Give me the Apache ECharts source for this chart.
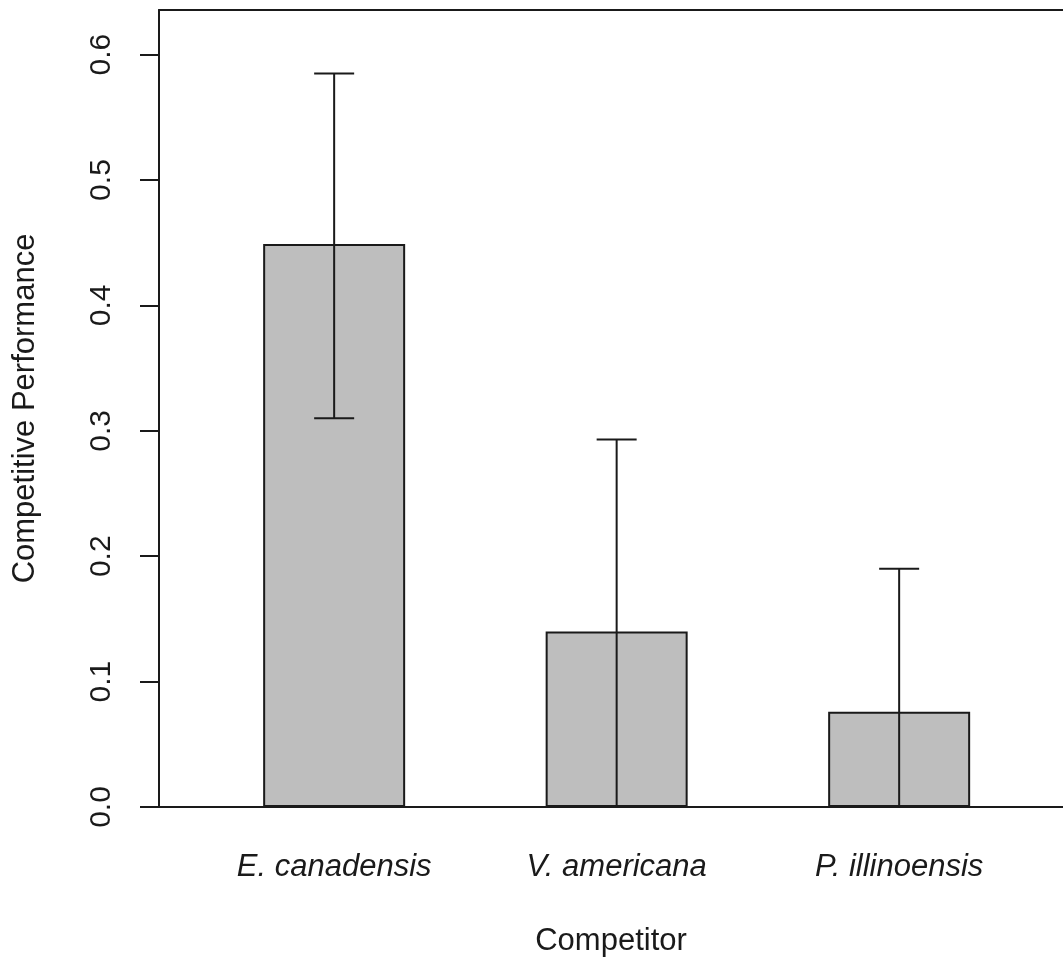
<!DOCTYPE html>
<html>
<head>
<meta charset="utf-8">
<script src="https://cdn.jsdelivr.net/npm/echarts@6/dist/echarts.min.js"></script>
<style>
  html, body { margin: 0; padding: 0; background: #ffffff; }
  #chart { width: 1063px; height: 964px; }
</style>
</head>
<body>
<div id="chart"></div>
<script>
// Competitive performance by competitor species (mean with error bars)
const categories = ['E. canadensis', 'V. americana', 'P. illinoensis'];
const means = [0.449, 0.140, 0.076];
const lowerLimits = [0.310, -0.013, -0.040];
const upperLimits = [0.585, 0.293, 0.190];
const yTicks = [0.0, 0.1, 0.2, 0.3, 0.4, 0.5, 0.6];

// bar positions along the x scale: 1, 2, 3
const positions = categories.map((_, i) => i + 1);

const FONT = "'Liberation Sans', Arial, sans-serif";
const INK = '#1a1a1a';
const X_MIN = 0.38, X_MAX = 3.58;
const Y_MAX = 0.6356;

const chart = echarts.init(document.getElementById('chart'), null, { renderer: 'canvas' });

chart.setOption({
  animation: false,
  backgroundColor: '#ffffff',
  grid: { left: 159, right: 0, top: 10, bottom: 157, containLabel: false },
  xAxis: [
    {
      type: 'value',
      position: 'bottom',
      min: X_MIN,
      max: X_MAX,
      name: 'Competitor',
      nameLocation: 'middle',
      nameGap: 119,
      nameTextStyle: { fontFamily: FONT, fontSize: 31, color: INK },
      axisLine: { show: true, onZero: false, lineStyle: { color: INK, width: 2 } },
      axisTick: { show: false },
      splitLine: { show: false },
      axisLabel: {
        customValues: positions,
        formatter: v => categories[Math.round(v) - 1] || '',
        fontFamily: FONT,
        fontSize: 31,
        fontStyle: 'italic',
        color: INK,
        margin: 45
      }
    },
    {
      type: 'value',
      position: 'top',
      min: X_MIN,
      max: X_MAX,
      axisLine: { show: true, onZero: false, lineStyle: { color: INK, width: 2 } },
      axisTick: { show: false },
      axisLabel: { show: false },
      splitLine: { show: false }
    }
  ],
  yAxis: {
    type: 'value',
    min: 0,
    max: Y_MAX,
    interval: 0.1,
    name: 'Competitive Performance',
    nameLocation: 'middle',
    nameGap: 118,
    nameTextStyle: { fontFamily: FONT, fontSize: 31, color: INK },
    axisLine: { show: true, onZero: false, lineStyle: { color: INK, width: 2 } },
    axisTick: {
      show: true,
      inside: false,
      length: 19,
      customValues: yTicks,
      lineStyle: { color: INK, width: 2 }
    },
    splitLine: { show: false },
    axisLabel: {
      customValues: yTicks,
      rotate: 90,
      formatter: v => v.toFixed(1),
      fontFamily: FONT,
      fontSize: 30,
      color: INK,
      margin: 42
    }
  },
  series: [
    {
      type: 'bar',
      xAxisIndex: 0,
      barWidth: 142,
      data: positions.map((p, i) => [p, means[i]]),
      itemStyle: { color: '#bebebe', borderColor: INK, borderWidth: 2 },
      z: 2
    },
    {
      type: 'custom',
      xAxisIndex: 0,
      clip: true,
      z: 3,
      data: positions.map((p, i) => [p, lowerLimits[i], upperLimits[i]]),
      encode: { x: 0, y: [1, 2] },
      renderItem: function (params, api) {
        const x = api.value(0);
        const lo = api.coord([x, api.value(1)]);
        const hi = api.coord([x, api.value(2)]);
        const half = 20;
        const style = { stroke: INK, lineWidth: 2, fill: null };
        return {
          type: 'group',
          children: [
            { type: 'line', shape: { x1: lo[0], y1: lo[1], x2: hi[0], y2: hi[1] }, style },
            { type: 'line', shape: { x1: hi[0] - half, y1: hi[1], x2: hi[0] + half, y2: hi[1] }, style },
            { type: 'line', shape: { x1: lo[0] - half, y1: lo[1], x2: lo[0] + half, y2: lo[1] }, style }
          ]
        };
      }
    }
  ]
});
</script>
</body>
</html>
